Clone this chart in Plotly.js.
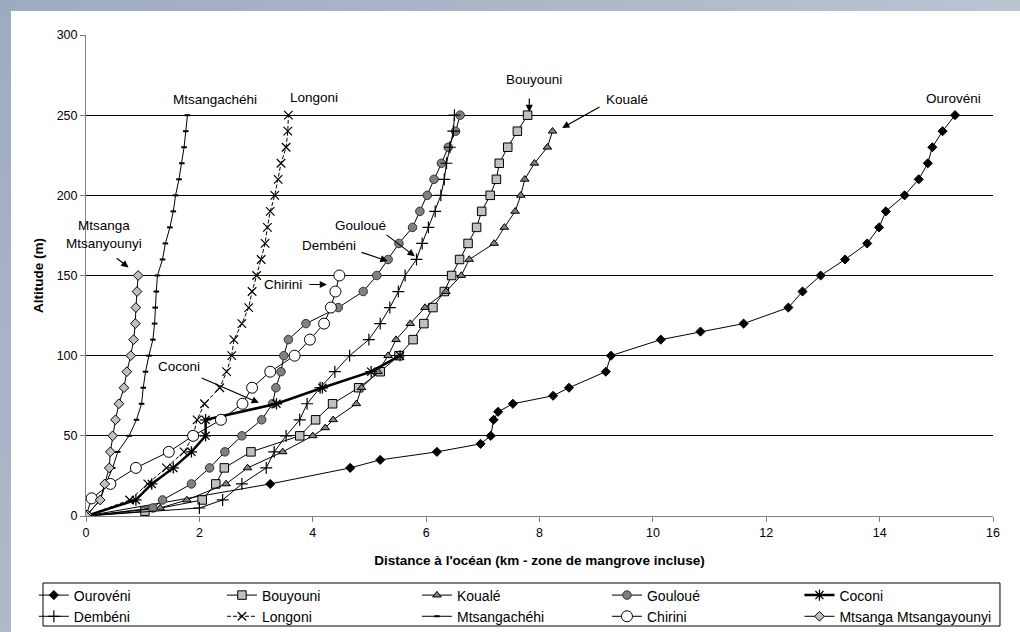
<!DOCTYPE html>
<html>
<head>
<meta charset="utf-8">
<script src="https://cdn.plot.ly/plotly-3.0.1.min.js"></script>
<style>
  html, body { margin: 0; padding: 0; width: 1020px; height: 632px; overflow: hidden;
    background: linear-gradient(135deg, #9dabbf 0%, #b4bfcd 50%, #c9d2dd 100%); }
  #chart { position: absolute; left: 11px; top: 11px; width: 1009px; height: 621px; background: #fff; }
</style>
</head>
<body>
<div id="chart"></div>
<script>
// ---- Data (distance km, altitude m) ----
const ouroveniX = [0, 3.25, 4.66, 5.19, 6.19, 6.96, 7.14, 7.19, 7.27, 7.53, 8.24, 8.52, 9.17, 9.26, 10.14, 10.84, 11.60, 12.39, 12.64, 12.96, 13.39, 13.78, 13.99, 14.11, 14.44, 14.69, 14.85, 14.93, 15.11, 15.33];
const ouroveniY = [0, 20, 30, 35, 40, 45, 50, 60, 65, 70, 75, 80, 90, 100, 110, 115, 120, 130, 140, 150, 160, 170, 180, 190, 200, 210, 220, 230, 240, 250];

const bouyouniX = [0, 1.04, 2.05, 2.29, 2.44, 2.91, 3.77, 4.05, 4.35, 4.81, 5.19, 5.52, 5.77, 5.96, 6.12, 6.32, 6.45, 6.59, 6.74, 6.89, 6.98, 7.13, 7.24, 7.29, 7.44, 7.61, 7.79];
const bouyouniY = [0, 3, 10, 20, 30, 40, 50, 60, 70, 80, 90, 100, 110, 120, 130, 140, 150, 160, 170, 180, 190, 200, 210, 220, 230, 240, 250];

const koualeX = [0, 1.31, 1.78, 2.47, 2.85, 3.47, 4.00, 4.22, 4.36, 4.77, 4.86, 5.15, 5.33, 5.47, 5.72, 5.98, 6.35, 6.62, 6.76, 7.20, 7.38, 7.57, 7.67, 7.74, 7.91, 8.14, 8.23];
const koualeY = [0, 5, 10, 20, 30, 40, 50, 55, 60, 70, 80, 90, 100, 110, 120, 130, 140, 150, 160, 170, 180, 190, 200, 210, 220, 230, 240];

const goulouetX = [0, 1.18, 1.35, 1.86, 2.18, 2.45, 2.75, 3.10, 3.29, 3.35, 3.44, 3.49, 3.57, 3.88, 4.45, 4.89, 5.13, 5.33, 5.52, 5.76, 5.89, 6.02, 6.14, 6.27, 6.39, 6.52, 6.60];
const goulouetY = [0, 5, 10, 20, 30, 40, 50, 60, 70, 80, 90, 100, 110, 120, 130, 140, 150, 160, 170, 180, 190, 200, 210, 220, 230, 240, 250];

const coconiX = [0, 0.88, 1.16, 1.54, 1.86, 2.11, 2.11, 3.36, 4.17, 5.03, 5.54];
const coconiY = [0, 10, 20, 30, 40, 50, 60, 70, 80, 90, 100];

const dembeniX = [0, 2.00, 2.41, 2.75, 3.18, 3.32, 3.53, 3.77, 3.90, 4.13, 4.39, 4.65, 4.99, 5.19, 5.36, 5.51, 5.63, 5.83, 5.93, 6.04, 6.16, 6.26, 6.32, 6.36, 6.42, 6.48, 6.50];
const dembeniY = [0, 5, 10, 20, 30, 40, 50, 60, 70, 80, 90, 100, 110, 120, 130, 140, 150, 160, 170, 180, 190, 200, 210, 220, 230, 240, 250];

const longoniX = [0, 0.77, 1.09, 1.42, 1.73, 1.89, 1.96, 2.09, 2.36, 2.48, 2.57, 2.61, 2.75, 2.87, 2.93, 3.01, 3.09, 3.16, 3.20, 3.25, 3.33, 3.39, 3.44, 3.53, 3.56, 3.57];
const longoniY = [0, 10, 20, 30, 40, 50, 60, 70, 80, 90, 100, 110, 120, 130, 140, 150, 160, 170, 180, 190, 200, 210, 220, 230, 240, 250];

const mtsangachehiX = [0, 0.25, 0.35, 0.47, 0.56, 0.76, 0.89, 0.98, 1.01, 1.05, 1.11, 1.18, 1.21, 1.22, 1.24, 1.26, 1.35, 1.40, 1.48, 1.54, 1.58, 1.64, 1.69, 1.73, 1.76, 1.79];
const mtsangachehiY = [0, 10, 20, 30, 40, 50, 60, 70, 80, 90, 100, 110, 120, 130, 140, 150, 160, 170, 180, 190, 200, 210, 220, 230, 240, 250];

const chiriniX = [0, 0.10, 0.43, 0.88, 1.46, 1.89, 2.38, 2.76, 2.93, 3.25, 3.68, 3.95, 4.20, 4.32, 4.40, 4.47];
const chiriniY = [0, 11, 20, 30, 40, 50, 60, 70, 80, 90, 100, 110, 120, 130, 140, 150];

const mtsangaX = [0, 0.25, 0.33, 0.41, 0.43, 0.47, 0.52, 0.58, 0.67, 0.72, 0.79, 0.84, 0.87, 0.88, 0.90, 0.92];
const mtsangaY = [0, 10, 20, 30, 40, 50, 60, 70, 80, 90, 100, 110, 120, 130, 140, 150];

const seriesNames = ['Ourovéni', 'Bouyouni', 'Koualé', 'Gouloué', 'Coconi', 'Dembéni', 'Longoni', 'Mtsangachéhi', 'Chirini', 'Mtsanga Mtsangayounyi'];

const xTickVals = [0, 2, 4, 6, 8, 10, 12, 14, 16];
const yTickVals = [0, 50, 100, 150, 200, 250, 300];

const FONT = 'Liberation Sans, Arial, sans-serif';

// legend column for each series (5 columns x 2 rows, like the original)
const legendIds = ['legend', 'legend2', 'legend3', 'legend4', 'legend5', 'legend', 'legend2', 'legend3', 'legend4', 'legend5'];

function tr(i, x, y, marker, line) {
  return { type: 'scatter', mode: 'lines+markers', name: seriesNames[i], x: x, y: y,
    legend: legendIds[i],
    marker: marker, line: Object.assign({ color: '#000', width: 1 }, line || {}) };
}

const data = [
  tr(0, ouroveniX, ouroveniY, { symbol: 'diamond', size: 7, color: '#000', line: { color: '#000', width: 1 } }),
  tr(1, bouyouniX, bouyouniY, { symbol: 'square', size: 8.5, color: '#c0c0c0', line: { color: '#000', width: 1 } }),
  tr(2, koualeX, koualeY, { symbol: 'triangle-up', size: 7.5, color: '#808080', line: { color: '#000', width: 1 } }),
  tr(3, goulouetX, goulouetY, { symbol: 'circle', size: 8.5, color: '#808080', line: { color: '#333', width: 1 } }),
  tr(4, coconiX, coconiY, { symbol: 'asterisk-open', size: 9.5, color: '#000', line: { color: '#000', width: 1.3 } }, { width: 2.5 }),
  tr(5, dembeniX, dembeniY, { symbol: 'cross-thin-open', size: 8.5, color: '#000', line: { color: '#000', width: 1.2 } }),
  tr(6, longoniX, longoniY, { symbol: 'x-thin-open', size: 8.5, color: '#000', line: { color: '#000', width: 1.2 } }, { dash: '4px,2px' }),
  tr(7, mtsangachehiX, mtsangachehiY, { symbol: 'line-ew-open', size: 4, color: '#000', line: { color: '#000', width: 2 } }),
  tr(8, chiriniX, chiriniY, { symbol: 'circle', size: 11, color: '#fff', line: { color: '#000', width: 1 } }),
  tr(9, mtsangaX, mtsangaY, { symbol: 'diamond', size: 7.5, color: '#c0c0c0', line: { color: '#000', width: 1 } })
];

function label(text, x, y) {
  return { xref: 'x', yref: 'y', x: x, y: y, text: text, showarrow: false,
    font: { family: FONT, size: 13.5, color: '#000' } };
}
function arrow(hx, hy, tx, ty) {
  return { xref: 'x', yref: 'y', axref: 'x', ayref: 'y', x: hx, y: hy, ax: tx, ay: ty,
    showarrow: true, arrowhead: 2, arrowsize: 1.2, arrowwidth: 1.2, arrowcolor: '#000', standoff: 0, startstandoff: 0 };
}

const annotations = [
  label('Mtsangachéhi', 2.28, 259.5),
  label('Longoni', 4.02, 261),
  label('Mtsanga<br>Mtsanyounyi', 0.32, 175.5),
  label('Chirini', 3.47, 144.5),
  label('Gouloué', 4.84, 181),
  label('Dembéni', 4.29, 169),
  label('Bouyouni', 7.91, 272),
  label('Koualé', 9.54, 259.5),
  label('Ourovéni', 15.31, 260.5),
  label('Coconi', 1.64, 93),
  arrow(0.75, 155, 0.48, 162.5),
  arrow(4.25, 144.4, 3.88, 144.4),
  arrow(5.80, 162, 5.24, 177),
  arrow(5.32, 159, 4.80, 165.2),
  arrow(7.82, 252, 7.82, 266),
  arrow(8.40, 242, 9.12, 256.3),
  arrow(3.05, 70.6, 1.98, 87)
];

function legendCol(px) {
  return {
    orientation: 'v', xref: 'paper', yref: 'paper', x: px, xanchor: 'left', y: -0.132, yanchor: 'top',
    bgcolor: 'rgba(0,0,0,0)', borderwidth: 0, traceorder: 'normal',
    font: { family: FONT, size: 14, color: '#000' }
  };
}

const layout = {
  width: 1009, height: 621,
  margin: { l: 75, r: 27, t: 24, b: 116, autoexpand: false },
  paper_bgcolor: '#fff', plot_bgcolor: '#fff',
  font: { family: FONT, size: 13.5, color: '#000' },
  showlegend: true,
  legend: legendCol(-0.0575),
  legend2: legendCol(0.1499),
  legend3: legendCol(0.3649),
  legend4: legendCol(0.5744),
  legend5: legendCol(0.7866),
  shapes: [
    { type: 'rect', xref: 'paper', yref: 'paper', x0: -0.0474, x1: 1.0077, y0: -0.1393, y1: -0.2287,
      line: { color: '#000', width: 1 }, fillcolor: 'rgba(0,0,0,0)', layer: 'below' }
  ],
  xaxis: {
    range: [0, 16], tickvals: xTickVals, ticktext: xTickVals.map(String),
    ticks: 'outside', ticklen: 5, tickcolor: '#808080', tickwidth: 1,
    showline: true, linecolor: '#808080', linewidth: 1,
    showgrid: false, zeroline: false, fixedrange: true,
    tickfont: { family: FONT, size: 12.5, color: '#000' },
    title: { text: "Distance à l'océan (km - zone de mangrove incluse)", standoff: 16,
      font: { family: FONT, size: 13.5, color: '#000', weight: 'bold' } }
  },
  yaxis: {
    range: [0, 300], tickvals: yTickVals, ticktext: yTickVals.map(String),
    ticks: 'outside', ticklen: 5, tickcolor: '#808080', tickwidth: 1,
    showline: true, linecolor: '#808080', linewidth: 1,
    showgrid: true, gridcolor: '#000', gridwidth: 1, zeroline: false, fixedrange: true,
    tickfont: { family: FONT, size: 12.5, color: '#000' },
    title: { text: 'Altitude (m)', standoff: 9,
      font: { family: FONT, size: 13.5, color: '#000', weight: 'bold' } }
  },
  annotations: annotations
};

Plotly.newPlot('chart', data, layout, { staticPlot: true, displayModeBar: false });
</script>
</body>
</html>
